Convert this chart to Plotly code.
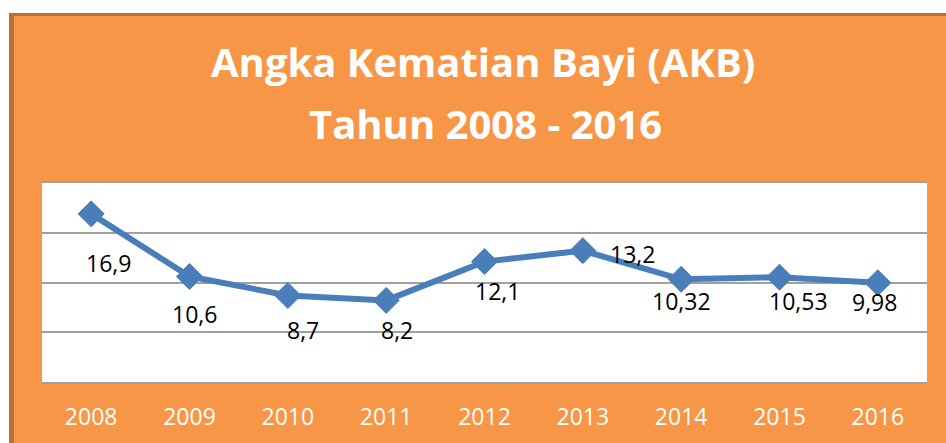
import plotly.graph_objects as go

years = ["2008", "2009", "2010", "2011", "2012", "2013", "2014", "2015", "2016"]
akb = [16.9, 10.6, 8.7, 8.2, 12.1, 13.2, 10.32, 10.53, 9.98]
labels = ["16,9", "10,6", "8,7", "8,2", "12,1", "13,2", "10,32", "10,53", "9,98"]
# label offsets in pixels relative to each point (dx right, dy down)
label_dx = [17, 5, 15, 11, 13, 50, 0, 19, -3]
label_dy = [49, 37, 35, 30, 29, 3, 22, 24, 19]

title1 = "Angka Kematian Bayi (AKB)"
title2 = "Tahun 2008 - 2016"

xs = list(range(len(years)))

W, H = 946, 443
L, R, T, B = 42, 19, 183, 61
pw = W - L - R
ph = H - T - B

def px(X):
    return (X - L) / pw

def py(Y):
    return (H - B - Y) / ph

ORANGE = "#F79646"
BROWN = "#B8703A"
BLUE = "#4A7EBB"

fig = go.Figure()
fig.add_trace(go.Scatter(
    x=xs, y=akb, mode="lines+markers",
    line=dict(color=BLUE, width=6),
    marker=dict(symbol="diamond", size=20, color=BLUE, line=dict(color=BLUE, width=1)),
    hoverinfo="skip", cliponaxis=False,
))

annotations = []
for xi, v, lab, dx, dy in zip(xs, akb, labels, label_dx, label_dy):
    annotations.append(dict(
        x=xi, y=v, xref="x", yref="y", text=lab, showarrow=False,
        xshift=dx, yshift=-dy, xanchor="center", yanchor="middle",
        font=dict(family="Open Sans", size=23, color="#000000"),
    ))

annotations.append(dict(
    x=px(483), y=py(62), xref="paper", yref="paper", text="<b>%s</b>" % title1,
    showarrow=False, xanchor="center", yanchor="middle",
    font=dict(family="Open Sans", size=40, color="#FFFFFF"),
))
annotations.append(dict(
    x=px(485), y=py(123), xref="paper", yref="paper", text="<b>%s</b>" % title2,
    showarrow=False, xanchor="center", yanchor="middle",
    font=dict(family="Open Sans", size=40, color="#FFFFFF"),
))

shapes = [
    # white page area above and left of the orange panel
    dict(type="rect", xref="paper", yref="paper", x0=px(-10), x1=px(960), y0=py(13), y1=py(-10),
         fillcolor="#FFFFFF", line=dict(width=0), layer="above"),
    dict(type="rect", xref="paper", yref="paper", x0=px(-10), x1=px(9), y0=py(460), y1=py(-10),
         fillcolor="#FFFFFF", line=dict(width=0), layer="above"),
    # darker panel edge
    dict(type="rect", xref="paper", yref="paper", x0=px(9), x1=px(14), y0=py(460), y1=py(13),
         fillcolor=BROWN, line=dict(width=0), layer="above"),
    dict(type="rect", xref="paper", yref="paper", x0=px(9), x1=px(960), y0=py(16), y1=py(13),
         fillcolor=BROWN, line=dict(width=0), layer="above"),
]

fig.update_layout(
    width=W, height=H,
    margin=dict(l=L, r=R, t=T, b=B, pad=0),
    paper_bgcolor=ORANGE,
    plot_bgcolor="#FFFFFF",
    showlegend=False,
    annotations=annotations,
    shapes=shapes,
    xaxis=dict(
        range=[-0.5, 8.5], tickvals=xs, ticktext=years,
        showgrid=False, zeroline=False,
        showline=True, mirror=True, linecolor="#A0A0A0", linewidth=2,
        ticks="outside", ticklen=13, tickcolor="rgba(0,0,0,0)",
        tickfont=dict(family="Open Sans", size=23, color="#FFFFFF"),
        fixedrange=True,
    ),
    yaxis=dict(
        range=[0, 20], dtick=5, showgrid=True, gridcolor="#A0A0A0", gridwidth=2,
        zeroline=False, showticklabels=False, showline=False, fixedrange=True,
    ),
)

fig.write_html("out.html",
               config={"displayModeBar": False, "staticPlot": True},
               post_script="document.body.style.margin='0';document.body.style.padding='0';")
